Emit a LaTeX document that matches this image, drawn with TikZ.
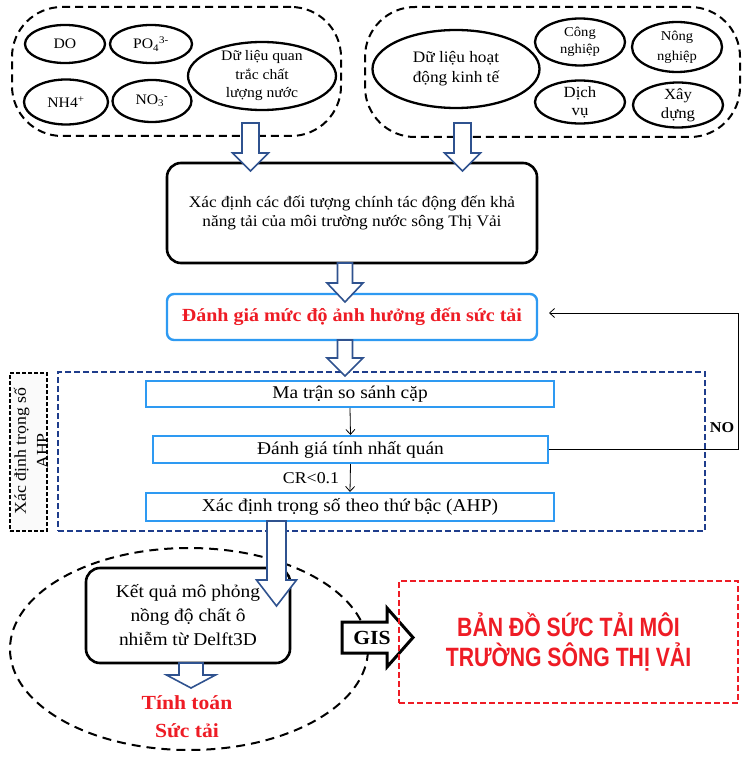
\documentclass[tikz,border=0pt]{standalone}
\usepackage{fontspec}
\setmainfont[FakeStretch=1.08]{Liberation Serif}
\newfontfamily\titlesans[FakeStretch=0.8]{Liberation Sans}
\usetikzlibrary{arrows.meta,shapes.geometric,calc}
\definecolor{arrowblue}{HTML}{2F528F}
\definecolor{boxblue}{HTML}{2E9AF2}
\definecolor{framenavy}{HTML}{1F3D8C}
\definecolor{redtxt}{HTML}{EE1C25}
\newcommand\blockdown[6]{%
  \draw[blockarrow] (#1-#5,#2) -- (#1-#5,#3) -- (#1-#6,#3) -- (#1,#4) -- (#1+#6,#3) -- (#1+#5,#3) -- (#1+#5,#2) -- cycle;}
\tikzset{
  grp/.style={draw, line width=2pt, dash pattern=on 8pt off 5pt, rounded corners=50pt},
  ell/.style={draw, ellipse, line width=2.3pt, inner sep=0pt},
  etext/.style={align=center, font=\fontsize{14.5}{18.5}\selectfont},
  stext/.style={align=center, font=\fontsize{13.5}{17}\selectfont},
  blockarrow/.style={draw=arrowblue, fill=white, line width=1.6pt, line join=miter},
  mainbox/.style={draw, line width=2.6pt, rounded corners=14pt, align=center, fill=white},
  bluebox/.style={draw=boxblue, line width=2.4pt, fill=white, align=center},
  thinarrow/.style={-{Straight Barb[length=5pt,width=9pt]}, line width=0.8pt},
}
\begin{document}
\begin{tikzpicture}[x=1pt,y=-1pt]
\useasboundingbox (0,0) rectangle (749,759);
% top groups
\node[grp, minimum width=329pt, minimum height=129pt] (gL) at (176.5,71.5) {};
\node[grp, minimum width=375pt, minimum height=130pt] (gR) at (552.5,72) {};
% left ellipses
\node[ell, minimum width=80pt, minimum height=38pt, label={[etext]center:DO}] (do) at (65,44) {};
\node[ell, minimum width=82pt, minimum height=38pt, label={[etext]center:{PO\textsubscript{4}\textsuperscript{3-}}}] (po) at (151,44) {};
\node[ell, minimum width=84pt, minimum height=45pt, label={[etext]center:{NH4\textsuperscript{+}}}] (nh) at (66,102) {};
\node[ell, minimum width=79pt, minimum height=42pt, label={[etext]center:{NO\textsubscript{3}\textsuperscript{-}}}] (no3) at (152,101) {};
\node[ell, minimum width=148pt, minimum height=68pt, label={[etext]center:{Dữ liệu quan\\trắc chất\\lượng nước}}] (dlq) at (262,76) {};
% right ellipses
\node[ell, minimum width=167pt, minimum height=78pt, label={[etext,font=\fontsize{16}{20}\selectfont]center:{Dữ liệu hoạt\\động kinh tế}}] (dlh) at (456,69) {};
\node[ell, minimum width=90pt, minimum height=47pt, label={[stext]center:{Công\\nghiệp}}] (cn) at (580,42) {};
\node[ell, minimum width=90pt, minimum height=50pt, label={[stext,font=\fontsize{13.5}{20}\selectfont]center:{Nông\\nghiệp}}] (nn) at (677,47) {};
\node[ell, minimum width=90pt, minimum height=43pt, label={[stext,font=\fontsize{15.5}{18}\selectfont]center:{Dịch\\vụ}}] (dv) at (580,102) {};
\node[ell, minimum width=90pt, minimum height=45pt, label={[stext,font=\fontsize{15.5}{19}\selectfont]center:{Xây\\dựng}}] (xd) at (678,105) {};
% main box
\node[mainbox, minimum width=370pt, minimum height=100pt, font=\fontsize{16}{19.5}\selectfont] (xdc) at (352,213) {Xác định các đối tượng chính tác động đến khả\\năng tải của môi trường nước sông Thị Vải};
% evaluation box
\node[bluebox, rounded corners=7pt, minimum width=370pt, minimum height=46pt, text=redtxt, font=\fontsize{18.5}{22}\selectfont\bfseries] (dg1) at (352,317) {Đánh giá mức độ ảnh hưởng đến sức tải};
% AHP frame
\node[draw=framenavy, line width=2.5pt, dash pattern=on 6pt off 3pt, minimum width=647pt, minimum height=159pt] (ahp) at (381.5,451.5) {};
\node[draw, fill=gray!4, line width=1.3pt, dash pattern=on 4pt off 2pt, minimum width=37pt, minimum height=158pt] (side) at (28.5,452) {};
\node[rotate=90, align=center, font=\fontsize{16.5}{22}\selectfont] (sidet) at (31,451) {Xác định trọng số\\AHP};
% AHP inner boxes
\node[bluebox, line width=2pt, minimum width=408pt, minimum height=26pt, font=\fontsize{18}{20}\selectfont] (mt) at (350,394) {Ma trận so sánh cặp};
\node[bluebox, line width=2pt, minimum width=395pt, minimum height=27pt, font=\fontsize{18}{20}\selectfont] (dg2) at (350.5,449.5) {Đánh giá tính nhất quán};
\node[bluebox, line width=2pt, minimum width=408pt, minimum height=28pt, font=\fontsize{18}{20}\selectfont] (ahpw) at (350,507) {Xác định trọng số theo thứ bậc (AHP)};
\draw[thinarrow] (mt.south) -- (dg2.north);
\draw[thinarrow] (dg2.south) -- (ahpw.north);
\node[font=\fontsize{16.5}{18}\selectfont] (cr) at (311,478) {CR<0.1};
% feedback loop
\coordinate (fb) at (738,449.5);
\coordinate (fbend) at (549,313);
\draw[thinarrow] (dg2.east) -- (fb) |- (fbend);
\node[font=\fontsize{15}{18}\selectfont\bfseries] (nolbl) at (722,428) {NO};
% bottom part
\node[draw, ellipse, line width=2pt, dash pattern=on 9pt off 6pt, minimum width=358pt, minimum height=202pt] (bige) at (189,649) {};
\node[mainbox, minimum width=204pt, minimum height=95pt, font=\fontsize{18}{24}\selectfont] (kq) at (188,615.5) {Kết quả mô phỏng\\nồng độ chất ô\\nhiễm từ Delft3D};
\node[align=center, text=redtxt, font=\fontsize{20}{28}\selectfont\bfseries] (tt) at (187,717) {Tính toán\\Sức tải};
\draw[line width=3pt, fill=white, line join=miter] (342,622) -- (387,622) -- (387,608) -- (413,637.5) -- (387,667) -- (387,653) -- (342,653) -- cycle;
\node[font=\fontsize{20}{22}\selectfont\bfseries] (gis) at (372,638) {GIS};
\node[draw=redtxt, line width=2.6pt, dash pattern=on 6pt off 3pt, minimum width=339pt, minimum height=122pt, align=center, text=redtxt, font=\titlesans\fontsize{26.5}{30}\selectfont\bfseries] (map) at (568.5,642) {BẢN ĐỒ SỨC TẢI MÔI\\TRƯỜNG SÔNG THỊ VẢI};
% block arrows
\blockdown{250.5}{123}{153}{171}{8.5}{18}
\blockdown{462.5}{123}{153}{171}{8.5}{18}
\blockdown{345}{263}{283}{302}{7.5}{18}
\blockdown{345}{340}{358}{376}{7.5}{18}
\blockdown{276.5}{521}{580}{606}{9.5}{20}
\blockdown{191}{663}{675}{688}{12}{24.5}
\end{tikzpicture}
\end{document}
